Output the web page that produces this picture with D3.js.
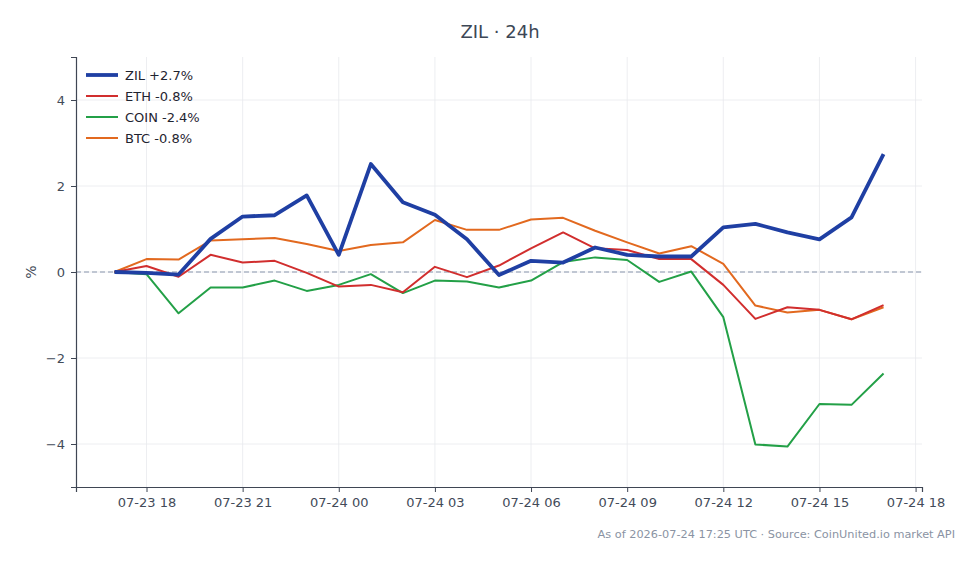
<!DOCTYPE html>
<html>
<head>
<meta charset="utf-8">
<script src="https://cdn.jsdelivr.net/npm/d3@7"></script>
<style>
  body { margin: 0; background: #fff; }
  text { font-family: "DejaVu Sans", sans-serif; }
</style>
</head>
<body>
<svg id="chart"></svg>
<script>
// hourly points, 07-23 17:00 -> 07-24 17:00 UTC
const hours = d3.range(25).map(i => new Date(Date.UTC(2026, 6, 23, 17 + i)));

const zil  = [0, -0.02, -0.06, 0.77, 1.29, 1.32, 1.78, 0.40, 2.51, 1.62, 1.33, 0.76, -0.07, 0.26, 0.22, 0.57, 0.40, 0.36, 0.36, 1.04, 1.12, 0.92, 0.76, 1.27, 2.74];
const eth  = [0, 0.14, -0.11, 0.40, 0.22, 0.26, -0.02, -0.34, -0.30, -0.47, 0.12, -0.12, 0.15, 0.55, 0.92, 0.55, 0.51, 0.30, 0.30, -0.30, -1.09, -0.82, -0.88, -1.10, -0.77];
const coin = [0, -0.05, -0.96, -0.36, -0.36, -0.20, -0.44, -0.30, -0.05, -0.49, -0.20, -0.22, -0.36, -0.20, 0.23, 0.34, 0.28, -0.23, 0.01, -1.05, -4.01, -4.06, -3.07, -3.09, -2.36];
const btc  = [0, 0.30, 0.29, 0.73, 0.76, 0.79, 0.65, 0.49, 0.63, 0.69, 1.21, 0.98, 0.98, 1.22, 1.26, 0.96, 0.69, 0.43, 0.60, 0.19, -0.78, -0.94, -0.88, -1.10, -0.82];

const seriesNames = ["ZIL +2.7%", "ETH -0.8%", "COIN -2.4%", "BTC -0.8%"];
const seriesValues = [zil, eth, coin, btc];
const yTicks = [-4, -2, 0, 2, 4];

const colors = ["#1f3fa3", "#d12e2e", "#23a047", "#e2691f"];
const widths = [3.8, 2, 2, 2];

const svgWidth = 980, svgHeight = 564;
const margin = { top: 57, right: 58, bottom: 77, left: 76 };
const width = svgWidth - margin.left - margin.right;
const height = svgHeight - margin.top - margin.bottom;

const root = d3.select("#chart")
  .attr("width", svgWidth)
  .attr("height", svgHeight);

const svg = root.append("g")
  .attr("transform", `translate(${margin.left},${margin.top})`);

// 5% padding on the time axis, like matplotlib margins
const t0 = hours[0].getTime(), t1 = hours[hours.length - 1].getTime();
const pad = (t1 - t0) * 0.05;
const x = d3.scaleUtc()
  .domain([new Date(t0 - pad), new Date(t1 + pad)])
  .range([0, width]);

const y = d3.scaleLinear()
  .domain([-5, 5])
  .range([height, 0]);

const xTicks = d3.range(9).map(i => new Date(Date.UTC(2026, 6, 23, 18 + 3 * i)));

// grid
svg.append("g")
  .selectAll("line.vg")
  .data(xTicks)
  .join("line")
  .attr("x1", d => x(d)).attr("x2", d => x(d))
  .attr("y1", 0).attr("y2", height)
  .attr("stroke", "#e8eaee").attr("stroke-width", 0.8);

svg.append("g")
  .selectAll("line.hg")
  .data(yTicks)
  .join("line")
  .attr("x1", 0).attr("x2", width)
  .attr("y1", d => y(d)).attr("y2", d => y(d))
  .attr("stroke", "#e8eaee").attr("stroke-width", 0.8);

// zero line
svg.append("line")
  .attr("x1", 0).attr("x2", width)
  .attr("y1", y(0)).attr("y2", y(0))
  .attr("stroke", "#8a96ad")
  .attr("stroke-width", 1)
  .attr("stroke-dasharray", "5,3");

// axes
const xAxis = svg.append("g")
  .attr("transform", `translate(0,${height})`)
  .call(d3.axisBottom(x).tickValues(xTicks).tickFormat(d3.utcFormat("%m-%d %H")).tickSizeOuter(0).tickSize(5).tickPadding(6));

const yAxis = svg.append("g")
  .call(d3.axisLeft(y).tickValues(yTicks).tickFormat(d => d < 0 ? "\u2212" + Math.abs(d) : d).tickSizeOuter(0).tickSize(5).tickPadding(6));

[xAxis, yAxis].forEach(a => {
  a.select(".domain").attr("stroke", "#3f4654").attr("stroke-width", 1.2);
  a.selectAll(".tick line").attr("stroke", "#3f4654");
  a.selectAll(".tick text")
    .attr("fill", "#434b59")
    .style("font-size", "13px")
    .style("font-family", "DejaVu Sans");
});

// y label
svg.append("text")
  .attr("transform", `translate(${-45},${y(0)}) rotate(-90)`)
  .attr("text-anchor", "middle")
  .attr("dy", "0.35em")
  .style("font-size", "14px")
  .style("fill", "#434b59")
  .text("%");

// lines
const line = d3.line()
  .x((d, i) => x(hours[i]))
  .y(d => y(d));

// draw thin ones first, ZIL on top
[3, 2, 1, 0].forEach(k => {
  svg.append("path")
    .datum(seriesValues[k])
    .attr("fill", "none")
    .attr("stroke", colors[k])
    .attr("stroke-width", widths[k])
    .attr("stroke-linejoin", "round")
    .attr("d", line);
});

// legend
const legend = svg.append("g").attr("transform", "translate(10,18)");
seriesNames.forEach((name, i) => {
  const g = legend.append("g").attr("transform", `translate(0,${i * 21})`);
  g.append("line")
    .attr("x1", 0).attr("x2", 32)
    .attr("stroke", colors[i])
    .attr("stroke-width", widths[i]);
  g.append("text")
    .attr("x", 39)
    .attr("dy", "0.35em")
    .style("font-size", "13px")
    .style("fill", "#1f2430")
    .text(name);
});

// title
root.append("text")
  .attr("x", 500)
  .attr("y", 38)
  .attr("text-anchor", "middle")
  .style("font-size", "18px")
  .style("fill", "#3d4756")
  .text("ZIL \u00b7 24h");

// footer
root.append("text")
  .attr("x", 955)
  .attr("y", 538)
  .attr("text-anchor", "end")
  .style("font-size", "11.3px")
  .style("fill", "#8a93a3")
  .text("As of 2026-07-24 17:25 UTC \u00b7 Source: CoinUnited.io market API");
</script>
</body>
</html>
